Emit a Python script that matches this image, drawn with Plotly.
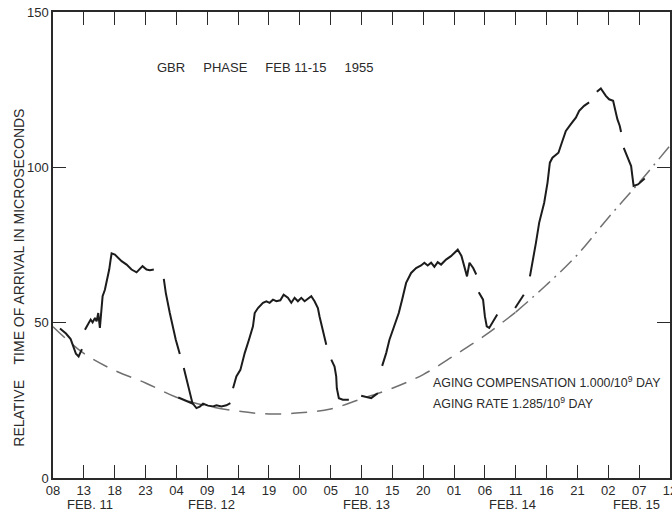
import plotly.graph_objects as go

# ---------------- data ----------------
hour_ticks = [0, 5, 10, 15, 20, 25, 30, 35, 40, 45, 50, 55, 60, 65, 70, 75, 80, 85, 90, 95, 100]
hour_labels = ["08", "13", "18", "23", "04", "09", "14", "19", "00", "05", "10",
               "15", "20", "01", "06", "11", "16", "21", "02", "07", "12"]
day_positions = [6.0, 25.7, 50.8, 74.4, 94.5]
day_labels = ["FEB. 11", "FEB. 12", "FEB. 13", "FEB. 14", "FEB. 15"]
y_ticks = [0, 50, 100, 150]
y_labels = ["0", "50", "100", "150"]

# measured phase trace (None = gap in the record)
phase_hours = [
    1.13, 2.1, 2.86, 3.29, 3.72, 4.15, 4.48, 4.69, None,
    5.18, 5.71, 6.1, 6.42, 6.8, 7.07, 7.33, 7.6, 7.88, 8.04, 8.41, 8.79, 9.11, 9.34, 9.5,
    10.03, 11.12, 11.93, 12.73, 13.54, 13.96, 14.51, 15.16, 15.7, 16.34, None,
    17.96, 18.28, 18.93, 19.37, 19.9, 20.55, None,
    20.3, 21.5, 22.7, None,
    21.2, 21.63, 22.17, 22.6, 23.25, 23.79, 24.32, 25.13, 25.94, 26.49, 27.3, 28.1, 28.75, None,
    29.18, 29.72, 30.37, 31.07, 31.76, 32.41, 32.69, 33.22, 34.03, 34.58, 35.11, 35.65, 36.2,
    36.84, 37.38, 38.07, 38.62, 39.16, 39.69, 40.24, 40.78, 41.31, 41.86, 42.39, 42.93, 43.2,
    43.74, 44.29, None,
    45.1, 45.63, 45.9, 46.0, 46.33, 46.97, 47.95, None,
    49.95, 50.76, 51.57, 52.1, 52.64, None,
    53.35, 54.0, 54.53, 55.34, 56.04, 56.58, 57.23, 58.04, 58.85, 59.66, 60.19, 60.73, 61.28,
    61.81, 62.35, 62.9, 63.7, 64.5, 65.3, 65.6, 66.2, 66.6, 67.1, 67.5, 68.1, 68.6, None,
    69.0, 69.7, 70.0, 70.3, 70.7, 71.3, 72.0, None,
    74.9, 76.3, None,
    77.3, 77.72, 78.27, 78.8, 79.61, 80.15, 80.53, 80.95, 81.92, 82.48, 83.12, 83.93, 84.74,
    85.28, 86.08, 86.89, None,
    88.14, 88.79, 89.6, 90.13, 90.78, 91.1, 91.47, 91.86, 92.07, None,
    92.5, 93.1, 93.7, 93.9, 94.1, 94.8, 95.9,
]
phase_values = [
    48.1, 46.5, 44.7, 42.4, 40.0, 39.1, 40.7, 41.5, None,
    47.7, 49.9, 51.0, 50.1, 51.5, 50.4, 53.1, 48.3, 56.4, 58.5, 60.6, 63.9, 67.1, 70.3, 72.3,
    71.9, 69.8, 68.7, 67.1, 66.2, 67.1, 68.2, 67.1, 66.9, 67.1, None,
    64.1, 59.6, 53.1, 48.8, 44.5, 39.9, None,
    25.9, 25.0, 23.9, None,
    35.4, 31.6, 27.3, 24.1, 22.5, 23.0, 23.9, 23.3, 23.0, 23.4, 23.0, 23.4, 24.1, None,
    28.9, 32.7, 34.8, 40.2, 44.5, 48.8, 53.1, 54.7, 56.4, 56.9, 56.4, 57.4, 56.9,
    57.2, 59.0, 58.0, 56.4, 58.0, 56.9, 58.0, 56.9, 57.6, 58.5, 56.9, 54.7, 52.0,
    47.7, 42.9, None,
    38.1, 35.9, 32.7, 28.9, 25.7, 25.2, 25.2, None,
    26.5, 26.0, 25.7, 26.5, 27.3, None,
    36.1, 40.2, 44.5, 48.8, 53.1, 57.4, 62.8, 66.0, 67.6, 68.4, 69.3, 68.4, 69.3,
    68.0, 69.5, 68.7, 70.3, 71.4, 72.8, 73.5, 71.5, 68.7, 64.9, 69.3, 67.6, 65.5, None,
    59.8, 57.4, 52.0, 48.8, 48.3, 50.4, 52.6, None,
    54.7, 59.0, None,
    64.9, 69.3, 75.7, 82.2, 88.6, 95.1, 101.5, 103.1, 104.7, 108.0, 111.7, 113.9, 116.0,
    118.2, 119.8, 120.9, None,
    124.3, 125.4, 123.0, 121.9, 121.4, 118.7, 115.5, 113.3, 111.4, None,
    106.3, 103.1, 100.4, 97.2, 94.0, 94.5, 96.4,
]

# aging-compensation reference curve (dashed, then dash-dot)
aging_hours_a = [0, 5, 10, 15, 20, 25, 30, 35, 40, 45, 50, 55, 60, 65, 70, 75]
aging_values_a = [48.7, 40.1, 34.6, 30.6, 26.0, 23.2, 21.5, 20.6, 21.0, 22.2, 25.5, 28.9,
                  33.3, 39.4, 45.9, 53.4]
aging_hours_b = [75, 80, 85, 90, 95, 100]
aging_values_b = [53.4, 62.2, 71.9, 83.8, 95.1, 107.0]

SP = "\u00a0" * 5
title_text = "GBR" + SP + "PHASE" + SP + "FEB 11-15" + SP + "1955"
note_lines = ["AGING COMPENSATION 1.000/10<sup>9</sup> DAY",
              "AGING RATE 1.285/10<sup>9</sup> DAY"]
y_title = "RELATIVE" + "\u00a0" * 4 + "TIME OF ARRIVAL IN MICROSECONDS"

# ---------------- figure ----------------
FONT = "Liberation Sans, Arial, sans-serif"
INK = "#2a2a2a"

fig = go.Figure()
fig.add_trace(go.Scatter(x=aging_hours_a, y=aging_values_a, mode="lines",
                         line=dict(color="#707070", width=1.5, dash="16px,10px", shape="spline"),
                         hoverinfo="skip", showlegend=False))
fig.add_trace(go.Scatter(x=aging_hours_b, y=aging_values_b, mode="lines",
                         line=dict(color="#707070", width=1.5, dash="16px,6px,2px,6px", shape="spline"),
                         hoverinfo="skip", showlegend=False))
fig.add_trace(go.Scatter(x=phase_hours, y=phase_values, mode="lines",
                         line=dict(color="#1c1c1c", width=2),
                         connectgaps=False, showlegend=False))

annotations = []
for pos, lab in zip(day_positions, day_labels):
    annotations.append(dict(x=pos, y=-0.057, xref="x", yref="paper", text=lab,
                            showarrow=False, xanchor="center", yanchor="middle",
                            font=dict(family=FONT, size=13, color=INK)))
annotations.append(dict(x=16.5, y=132, xref="x", yref="y", text=title_text,
                        showarrow=False, xanchor="left", yanchor="middle",
                        font=dict(family=FONT, size=13, color=INK)))
annotations.append(dict(x=61.2, y=31, xref="x", yref="y", text=note_lines[0],
                        showarrow=False, xanchor="left", yanchor="middle",
                        font=dict(family=FONT, size=12.4, color=INK)))
annotations.append(dict(x=61.2, y=24.2, xref="x", yref="y", text=note_lines[1],
                        showarrow=False, xanchor="left", yanchor="middle",
                        font=dict(family=FONT, size=12.4, color=INK)))
annotations.append(dict(x=-0.055, y=0.43, xref="paper", yref="paper", text=y_title,
                        showarrow=False, textangle=-90, xanchor="center", yanchor="middle",
                        font=dict(family=FONT, size=14, color=INK)))

fig.update_layout(
    width=672, height=512,
    margin=dict(l=53, r=2, t=12, b=34),
    paper_bgcolor="white", plot_bgcolor="white",
    annotations=annotations,
    xaxis=dict(range=[0, 100], tickvals=hour_ticks, ticktext=hour_labels,
               ticks="inside", ticklen=13, tickwidth=1.3, tickcolor=INK,
               showline=True, linecolor=INK, linewidth=1.5, mirror="allticks",
               showgrid=False, zeroline=False, ticklabeloverflow="allow", automargin=False,
               tickfont=dict(family=FONT, size=13, color=INK)),
    yaxis=dict(range=[0, 150], tickvals=y_ticks, ticktext=y_labels,
               ticks="inside", ticklen=13, tickwidth=1.3, tickcolor=INK,
               showline=True, linecolor=INK, linewidth=1.5, mirror="allticks",
               showgrid=False, zeroline=False, ticklabeloverflow="allow", automargin=False,
               tickfont=dict(family=FONT, size=13, color=INK)),
)

# remove the default page margin so the 672x512 figure fills the window exactly
fig.write_html("out.html",
               config={"displayModeBar": False},
               post_script="document.body.style.margin='0';document.body.style.overflow='hidden';")
